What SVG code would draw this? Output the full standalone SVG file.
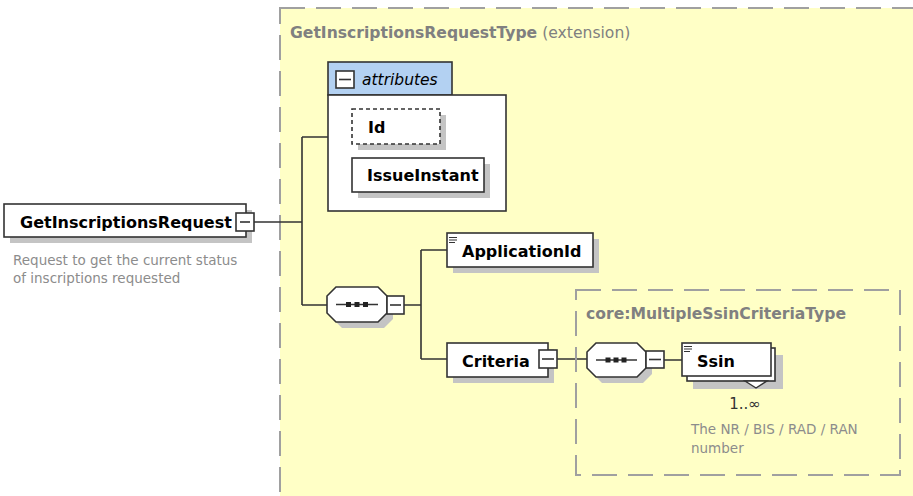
<svg xmlns="http://www.w3.org/2000/svg" width="913" height="496" viewBox="0 0 913 496">
<style>
.box{fill:#fff;stroke:#333;stroke-width:1.6}
.sh{fill:#c4c4c4}
.t{font-family:"DejaVu Sans","Liberation Sans",sans-serif;font-weight:bold;font-size:16px;fill:#000}
.ti{font-family:"DejaVu Sans","Liberation Sans",sans-serif;font-size:15.6px;fill:#808080}
.d{font-family:"DejaVu Sans","Liberation Sans",sans-serif;font-size:13.5px;fill:#8c8c8c}
.c{fill:none;stroke:#333;stroke-width:1.6}
.dash{fill:none;stroke:#a0a0a0;stroke-width:2;stroke-dasharray:25 11}
.mi{fill:#fff;stroke:#333;stroke-width:1.6}
.ml{stroke:#333;stroke-width:1.6}
.ic{stroke:#333;stroke-width:1}
</style>
<rect width="913" height="496" fill="#fff"/>
<g id="typeGetInscriptionsRequestType">
<rect x="280" y="8" width="660" height="500" fill="#ffffc6"/>
<rect x="280" y="8" width="660" height="500" class="dash"/>
<text x="290" y="38" class="ti"><tspan font-weight="bold">GetInscriptionsRequestType</tspan> (extension)</text>
</g>
<g id="connectors">
<path class="c" d="M254 222H302M302 137V305M302 137H328M302 305H327"/>
<path class="c" d="M404 305H421M421 250V359M421 250H447M421 359H447"/>
<path class="c" d="M557 359H587M664 360H682"/>
</g>
<g id="GetInscriptionsRequest">
<rect x="10" y="210" width="242" height="33" class="sh"/>
<rect x="4" y="204" width="242" height="33" class="box"/>
<text x="20" y="228" class="t" font-size="16.2">GetInscriptionsRequest</text>
<rect x="236" y="213" width="18" height="18" class="mi"/>
<line x1="240" y1="222" x2="250" y2="222" class="ml"/>
<text x="13" y="265" class="d">Request to get the current status</text>
<text x="13" y="283" class="d">of inscriptions requested</text>
</g>
<g id="attributes">
<rect x="328" y="62" width="124" height="33" fill="#b3d1f2" stroke="#333" stroke-width="1.6"/>
<rect x="328" y="95" width="178" height="116" class="box"/>
<rect x="336" y="71" width="18" height="17" fill="#fff" stroke="#333" stroke-width="1.6"/>
<line x1="339" y1="79.5" x2="351" y2="79.5" class="ml"/>
<text x="362" y="85" font-family="DejaVu Sans, Liberation Sans, sans-serif" font-style="italic" font-size="15.5" fill="#000">attributes</text>
</g>
<g id="Id">
<rect x="358" y="115" width="88" height="35" class="sh"/>
<rect x="352" y="109" width="88" height="35" fill="#fff" stroke="#333" stroke-width="1.6" stroke-dasharray="4 3"/>
<text x="368" y="133" class="t">Id</text>
</g>
<g id="IssueInstant">
<rect x="358" y="164" width="132" height="34" class="sh"/>
<rect x="352" y="158" width="132" height="34" class="box"/>
<text x="367" y="181" class="t" font-size="15.2">IssueInstant</text>
</g>
<g id="sequence1">
<polygon points="342,293 384,293 393,302 393,319 384,328 342,328 333,319 333,302" class="sh"/>
<polygon points="336,287 378,287 387,296 387,313 378,322 336,322 327,313 327,296" class="box"/>
<line x1="336" y1="304.5" x2="378" y2="304.5" class="ml"/>
<rect x="346" y="302" width="5" height="5" fill="#222"/>
<rect x="354.5" y="302" width="5" height="5" fill="#222"/>
<rect x="363" y="302" width="5" height="5" fill="#222"/>
<rect x="387" y="296" width="17" height="18" class="mi"/>
<line x1="390" y1="305" x2="401" y2="305" class="ml"/>
</g>
<g id="ApplicationId">
<rect x="453" y="239" width="146" height="34" class="sh"/>
<rect x="447" y="233" width="146" height="34" class="box"/>
<path class="ic" d="M449 237.5H457M449 240H457M449 242.5H455"/>
<text x="462" y="257" class="t">ApplicationId</text>
</g>
<g id="Criteria">
<rect x="453" y="349" width="101" height="34" class="sh"/>
<rect x="447" y="343" width="101" height="34" class="box"/>
<text x="462" y="367" class="t">Criteria</text>
<rect x="539" y="350" width="18" height="18" class="mi"/>
<line x1="542" y1="359" x2="554" y2="359" class="ml"/>
</g>
<g id="typeMultipleSsinCriteriaType">
<rect x="576" y="290" width="324" height="185" class="dash"/>
<text x="586" y="319" class="ti" font-weight="bold">core:MultipleSsinCriteriaType</text>
</g>
<g id="sequence2">
<polygon points="602,349 643,349 652,358 652,374 643,383 602,383 593,374 593,358" class="sh"/>
<polygon points="596,343 637,343 646,352 646,368 637,377 596,377 587,368 587,352" class="box"/>
<line x1="596" y1="360" x2="637" y2="360" class="ml"/>
<rect x="605.5" y="357.5" width="5" height="5" fill="#222"/>
<rect x="613.5" y="357.5" width="5" height="5" fill="#222"/>
<rect x="621.5" y="357.5" width="5" height="5" fill="#222"/>
<rect x="646" y="351" width="18" height="17" class="mi"/>
<line x1="649" y1="359.5" x2="661" y2="359.5" class="ml"/>
</g>
<g id="Ssin">
<rect x="693" y="355" width="90" height="34" class="sh"/>
<rect x="687" y="348" width="88" height="33" class="box"/>
<rect x="682" y="343" width="89" height="33" class="box"/>
<polygon points="745,381 767,381 756,388" fill="#fff" stroke="#333" stroke-width="1.4"/>
<path class="ic" d="M684 346.5H692M684 349H692M684 351.5H690"/>
<text x="697" y="367" class="t">Ssin</text>
<text x="745" y="409" text-anchor="middle" font-family="DejaVu Sans, Liberation Sans, sans-serif" font-size="15" fill="#333">1..∞</text>
<text x="691" y="434" class="d">The NR / BIS / RAD / RAN</text>
<text x="691" y="453" class="d">number</text>
</g>
</svg>
